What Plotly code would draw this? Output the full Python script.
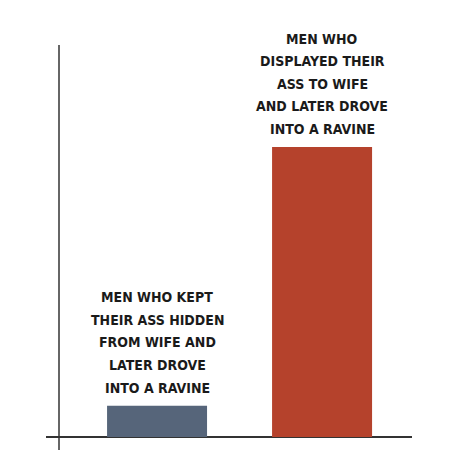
import plotly.graph_objects as go

# bar data
categories = ["hidden", "displayed"]
values = [8, 74]
label_lines = [
    ["MEN WHO KEPT", "THEIR ASS HIDDEN", "FROM WIFE AND", "LATER DROVE", "INTO A RAVINE"],
    ["MEN WHO", "DISPLAYED THEIR", "ASS TO WIFE", "AND LATER DROVE", "INTO A RAVINE"],
]
colors = ["#56657a", "#b5422c"]

label_font = dict(family="DejaVu Sans Condensed, Liberation Sans Narrow, sans-serif",
                  size=14, color="#1a1a1a", weight="bold")

fig = go.Figure(go.Bar(
    x=categories,
    y=values,
    width=0.606,
    marker=dict(color=colors, line=dict(width=0)),
    hoverinfo="skip",
))

# one annotation per line so the line spacing matches the poster look
for cat, val, lines in zip(categories, values, label_lines):
    for k, line in enumerate(reversed(lines)):
        fig.add_annotation(
            x=cat, y=val, text=line, showarrow=False,
            xanchor="center", yanchor="middle", yshift=18 + 22.6 * k,
            font=label_font,
        )

# y axis line sits a little right of the plot edge and runs below the x axis
fig.add_shape(type="line", xref="paper", yref="paper",
              x0=13 / 366, x1=13 / 366, y0=0, y1=1,
              line=dict(color="#333333", width=1.5))

fig.update_layout(
    width=474, height=474,
    margin=dict(l=38, r=70, t=37, b=32),
    paper_bgcolor="white", plot_bgcolor="white",
    showlegend=False,
    xaxis=dict(range=[-0.673, 1.545], showticklabels=False, ticks="",
               showgrid=False, zeroline=False, showline=False),
    yaxis=dict(range=[-3.32, 100], showticklabels=False, ticks="",
               showgrid=False, zeroline=True, zerolinecolor="#333333",
               zerolinewidth=1.5, showline=False),
)

fig.write_html("out.html")
